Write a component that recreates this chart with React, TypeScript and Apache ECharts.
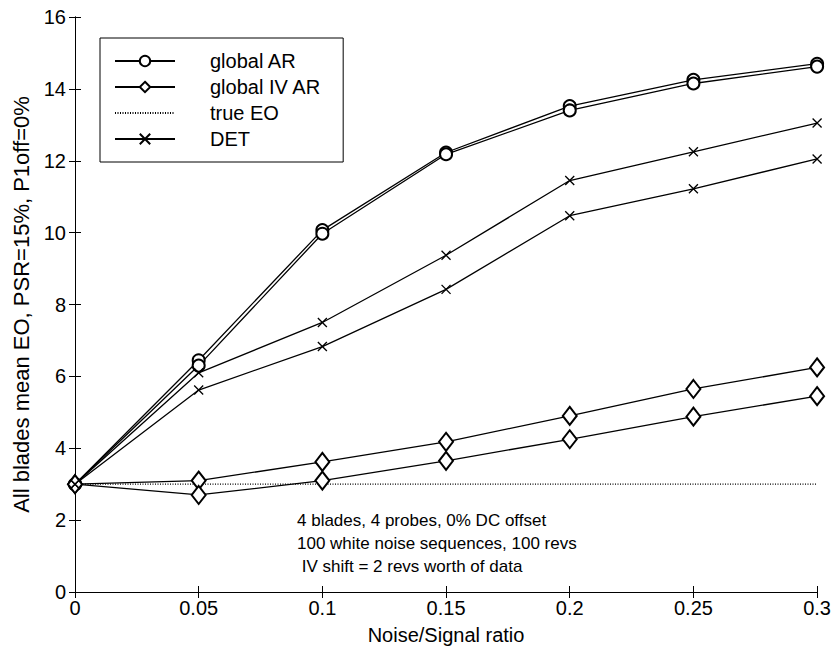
import React, { useEffect, useRef } from "react";
import * as echarts from "echarts";

const xValues = [0, 0.05, 0.1, 0.15, 0.2, 0.25, 0.3];
const globalAR1 = [3, 6.45, 10.07, 12.23, 13.52, 14.25, 14.7];
const globalAR2 = [3, 6.3, 9.97, 12.18, 13.4, 14.15, 14.62];
const globalIVAR1 = [3, 3.1, 3.62, 4.18, 4.9, 5.65, 6.25];
const globalIVAR2 = [3, 2.7, 3.1, 3.65, 4.25, 4.88, 5.45];
const trueEO = [3, 3, 3, 3, 3, 3, 3];
const det1 = [3, 6.1, 7.5, 9.37, 11.45, 12.25, 13.05];
const det2 = [3, 5.62, 6.83, 8.42, 10.47, 11.22, 12.05];
const notes = [
  "4 blades, 4 probes, 0% DC offset",
  "100 white noise sequences, 100 revs",
  " IV shift = 2 revs worth of data",
];

const FONT = "'Liberation Sans', Arial, Helvetica, sans-serif";
const FS = 20;
const X_SYMBOL = "path://M0,0L10,10M10,0L0,10";

const pair = (ys: number[]) => xValues.map((x, i) => [x, ys[i]]);

export default function App() {
  const ref = useRef<HTMLDivElement>(null);
  useEffect(() => {
    document.body.style.margin = "0";
    const chart = echarts.init(ref.current!, null, { renderer: "svg" });
    const lineStyle = { color: "#000", width: 1.3 };
    const mk = (name: string, ys: number[], symbol: string, size: any) => ({
      name,
      type: "line",
      data: pair(ys),
      symbol,
      symbolSize: size,
      showAllSymbol: true,
      lineStyle,
      itemStyle: { color: "#000", borderColor: "#000", borderWidth: 1.2 },
      emphasis: { disabled: true },
      z: 3,
    });
    const detMk = (ys: number[]) => ({
      name: "DET",
      type: "line",
      data: pair(ys),
      symbol: X_SYMBOL,
      symbolSize: 9,
      lineStyle,
      itemStyle: { color: "none", borderColor: "#000", borderWidth: 1.3 },
      emphasis: { disabled: true },
      z: 3,
    });
    const axisCommon = {
      axisLine: { show: true, lineStyle: { color: "#000", width: 1 } },
      axisTick: { show: true, inside: true, length: 6, lineStyle: { color: "#000", width: 1 } },
      splitLine: { show: false },
    };
    const labelStyle = { color: "#000", fontSize: FS, fontFamily: FONT };
    chart.setOption({
      animation: false,
      backgroundColor: "#fff",
      textStyle: { fontFamily: FONT },
      grid: { left: 75, right: 16, top: 17, bottom: 62 },
      legend: {
        orient: "vertical",
        left: 100,
        top: 38,
        data: ["global AR", "global IV AR", "true EO", "DET"],
        backgroundColor: "#fff",
        borderColor: "#000",
        borderWidth: 1,
        padding: [13, 22, 13, 14],
        itemWidth: 60,
        itemHeight: 13,
        itemGap: 6,
        selectedMode: false,
        textStyle: { ...labelStyle, padding: [0, 0, 0, 30] },
      },
      xAxis: [
        {
          ...axisCommon,
          type: "value",
          min: 0,
          max: 0.3,
          interval: 0.05,
          name: "Noise/Signal ratio",
          nameLocation: "middle",
          nameGap: 33,
          nameTextStyle: labelStyle,
          axisLabel: {
            ...labelStyle,
            margin: 6,
            formatter: (v: number) => String(+v.toFixed(2)),
          },
        },
        {
          ...axisCommon,
          type: "value",
          position: "top",
          min: 0,
          max: 0.3,
          interval: 0.05,
          axisLabel: { show: false },
        },
      ],
      yAxis: [
        {
          ...axisCommon,
          type: "value",
          min: 0,
          max: 16,
          interval: 2,
          name: "All blades mean EO, PSR=15%, P1off=0%",
          nameLocation: "middle",
          nameGap: 42,
          nameTextStyle: { ...labelStyle, fontSize: 22 },
          axisLabel: { ...labelStyle, margin: 9 },
        },
        {
          ...axisCommon,
          type: "value",
          position: "right",
          min: 0,
          max: 16,
          interval: 2,
          axisLabel: { show: false },
        },
      ],
      series: [
        mk("global AR", globalAR1, "emptyCircle", 12),
        mk("global AR", globalAR2, "emptyCircle", 12),
        mk("global IV AR", globalIVAR1, "emptyDiamond", [14, 18]),
        mk("global IV AR", globalIVAR2, "emptyDiamond", [14, 18]),
        {
          name: "true EO",
          type: "line",
          data: pair(trueEO),
          symbol: "none",
          lineStyle: { color: "#000", width: 1.2, type: [1, 1.5] },
          itemStyle: { color: "transparent", borderColor: "transparent" },
          emphasis: { disabled: true },
          z: 2,
        },
        detMk(det1),
        detMk(det2),
      ],
      graphic: notes.map((t, i) => ({
        type: "text",
        left: 297,
        top: 512 + i * 23,
        style: { text: t, fill: "#000", font: `17px ${FONT}` },
        z: 10,
      })),
    });
    return () => chart.dispose();
  }, []);
  return <div ref={ref} style={{ width: 834, height: 654 }} />;
}
